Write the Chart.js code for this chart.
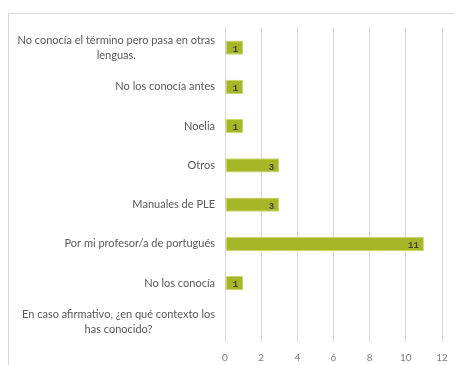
<!DOCTYPE html>
<html>
<head>
<meta charset="utf-8">
<script src="https://cdn.jsdelivr.net/npm/chart.js@4/dist/chart.umd.min.js"></script>
<style>
  html, body { margin: 0; padding: 0; background: #fff; }
  #wrap { position: relative; width: 454px; height: 365px; overflow: hidden; }
  #frame { position: absolute; left: 8px; top: 13px; width: 600px; height: 400px;
           border-left: 1px solid #d9d9d9; border-top: 1px solid #d9d9d9; }
  #c { position: absolute; left: 0; top: 0; }
</style>
</head>
<body>
<div id="wrap">
  <div id="frame"></div>
  <canvas id="c" width="454" height="365"></canvas>
</div>
<script>
const categories = [
  ['No conocía el término pero pasa en otras', 'lenguas.'],
  ['No los conocía antes'],
  ['Noelia'],
  ['Otros'],
  ['Manuales de PLE'],
  ['Por mi profesor/a de portugués'],
  ['No los conocía'],
  ['En caso afirmativo, ¿en qué contexto los', 'has conocido?']
]
const counts = [1, 1, 1, 3, 3, 11, 1, null]
const xTicks = [0, 2, 4, 6, 8, 10, 12]

const labelFont = '11px Lato, "Open Sans", sans-serif'

// category labels, each block centred on its own widest line and right-aligned to the axis
const categoryLabels = {
  id: 'categoryLabels',
  afterDraw(chart) {
    const { ctx, scales } = chart
    const y = scales.y
    const lineH = 15
    ctx.save()
    ctx.font = labelFont
    ctx.fillStyle = '#595959'
    ctx.textAlign = 'center'
    ctx.textBaseline = 'middle'
    categories.forEach((lines, i) => {
      let cy = y.getPixelForTick(i)
      // keep the last block clear of the bottom axis
      const half = (lines.length - 1) * lineH / 2
      if (cy + half + 10 > y.bottom) cy = y.bottom - half - 12
      const w = Math.max(...lines.map(l => ctx.measureText(l).width))
      const cx = y.right - 10 - w / 2
      lines.forEach((l, k) => ctx.fillText(l, cx, cy - half + k * lineH))
    })
    ctx.restore()
  }
}

// value labels inside the end of each bar
const valueLabels = {
  id: 'valueLabels',
  afterDatasetsDraw(chart) {
    const { ctx } = chart
    const meta = chart.getDatasetMeta(0)
    ctx.save()
    ctx.font = 'bold 9px "Liberation Mono", "DejaVu Sans Mono", monospace'
    ctx.fillStyle = '#404040'
    ctx.textAlign = 'right'
    ctx.textBaseline = 'middle'
    meta.data.forEach((bar, i) => {
      if (counts[i] == null) return
      ctx.fillText(String(counts[i]), bar.x - 5, bar.y + 2)
    })
    ctx.restore()
  }
}

new Chart(document.getElementById('c'), {
  type: 'bar',
  data: {
    labels: categories.map(l => l.join(' ')),
    datasets: [{
      data: counts,
      backgroundColor: '#a5b627',
      borderColor: '#ccd66e',
      borderWidth: 1,
      borderSkipped: false,
      barPercentage: 0.36,
      categoryPercentage: 1
    }]
  },
  options: {
    indexAxis: 'y',
    responsive: false,
    animation: false,
    layout: { padding: { top: 28, right: 12, left: 0, bottom: 0 } },
    plugins: {
      legend: { display: false },
      tooltip: { enabled: false }
    },
    scales: {
      x: {
        min: 0,
        max: 12,
        afterBuildTicks: (axis) => { axis.ticks = xTicks.map(v => ({ value: v })) },
        afterFit: (axis) => {
          axis.height = 23
          axis.paddingLeft = 0
          axis.paddingRight = 0
        },
        border: { display: false },
        grid: { color: '#d9d9d9', lineWidth: 1, drawTicks: false },
        ticks: {
          padding: 10,
          color: '#7f7f7f',
          font: { family: 'Lato, "Open Sans", sans-serif', size: 10 }
        }
      },
      y: {
        afterFit: (axis) => {
          axis.width = 225
          axis.paddingTop = 0
          axis.paddingBottom = 0
        },
        border: { display: false },
        grid: { display: false },
        ticks: { display: false }
      }
    }
  },
  plugins: [categoryLabels, valueLabels]
})
</script>
</body>
</html>
